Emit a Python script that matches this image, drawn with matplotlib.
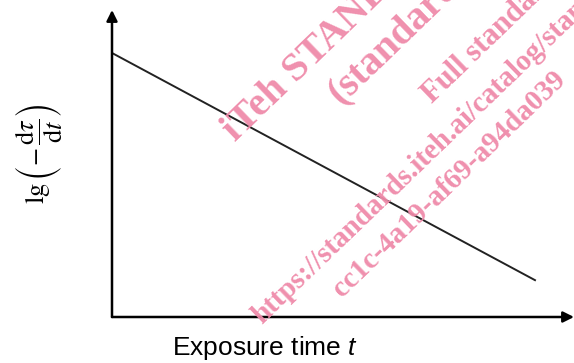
import matplotlib
matplotlib.use('Agg')
import matplotlib.pyplot as plt

# schematic data: lg(-dtau/dt) falls linearly with exposure time
time = [0.0, 10.0]
lg_rate = [8.6, 1.2]

# watermark text lines (start x, start y in pixels from top-left, size)
wm_lines = ["iTeh STANDARD PREVIEW",
            "(standards.iteh.ai)",
            "Full standard:",
            "https://standards.iteh.ai/catalog/standards/sist/",
            "cc1c-4a19-af69-a94da039"]
wm_x = [235, 340, 432, 262, 342]
wm_y = [142, 105, 104, 325, 298]
wm_size = [29, 29, 22, 21, 21]

W, H = 574, 363
plt.rcParams['mathtext.fontset'] = 'custom'
plt.rcParams['mathtext.it'] = 'Liberation Sans:italic'
plt.rcParams['mathtext.rm'] = 'Liberation Sans'
fig = plt.figure(figsize=(W / 100, H / 100), dpi=100)

left, bottom = 112 / W, (H - 317) / H
ax = fig.add_axes([left, bottom, 1 - left, (317 - 10) / H])
ax.set_xlim(0, 10 * 462 / 423)
ax.set_ylim(0, 10)
for s in ax.spines.values():
    s.set_visible(False)
ax.set_xticks([])
ax.set_yticks([])
ax.patch.set_alpha(0)

ax.plot(time, lg_rate, color='#222222', lw=1.4)

# axes with arrow heads
arrow = dict(arrowstyle='-|>', color='black', lw=1.8, mutation_scale=16,
             shrinkA=0, shrinkB=0)
ax.annotate('', xy=(0, 1), xytext=(0, 0), xycoords='axes fraction', arrowprops=arrow)
ax.annotate('', xy=(1, 0), xytext=(0, 0), xycoords='axes fraction', arrowprops=arrow)

fig.text(265 / W, 1 - 348 / H, 'Exposure time $t$', ha='center', va='center',
         fontsize=19, family='Liberation Sans')
fig.text(39 / W, 1 - 154 / H, r'$\mathrm{lg}\,\left(-\,\dfrac{\mathrm{d}\tau}{\mathrm{d}t}\right)$',
         rotation=90, ha='center', va='center', fontsize=19, math_fontfamily='stix')

for txt, x, y, sz in zip(wm_lines, wm_x, wm_y, wm_size):
    fig.text(x / W, 1 - y / H, txt, rotation=44, rotation_mode='anchor',
             ha='left', va='baseline', fontsize=sz, family='Liberation Serif',
             fontweight='bold', color='#ef8aa9', alpha=0.95)

fig.savefig('out.png', dpi=100)
